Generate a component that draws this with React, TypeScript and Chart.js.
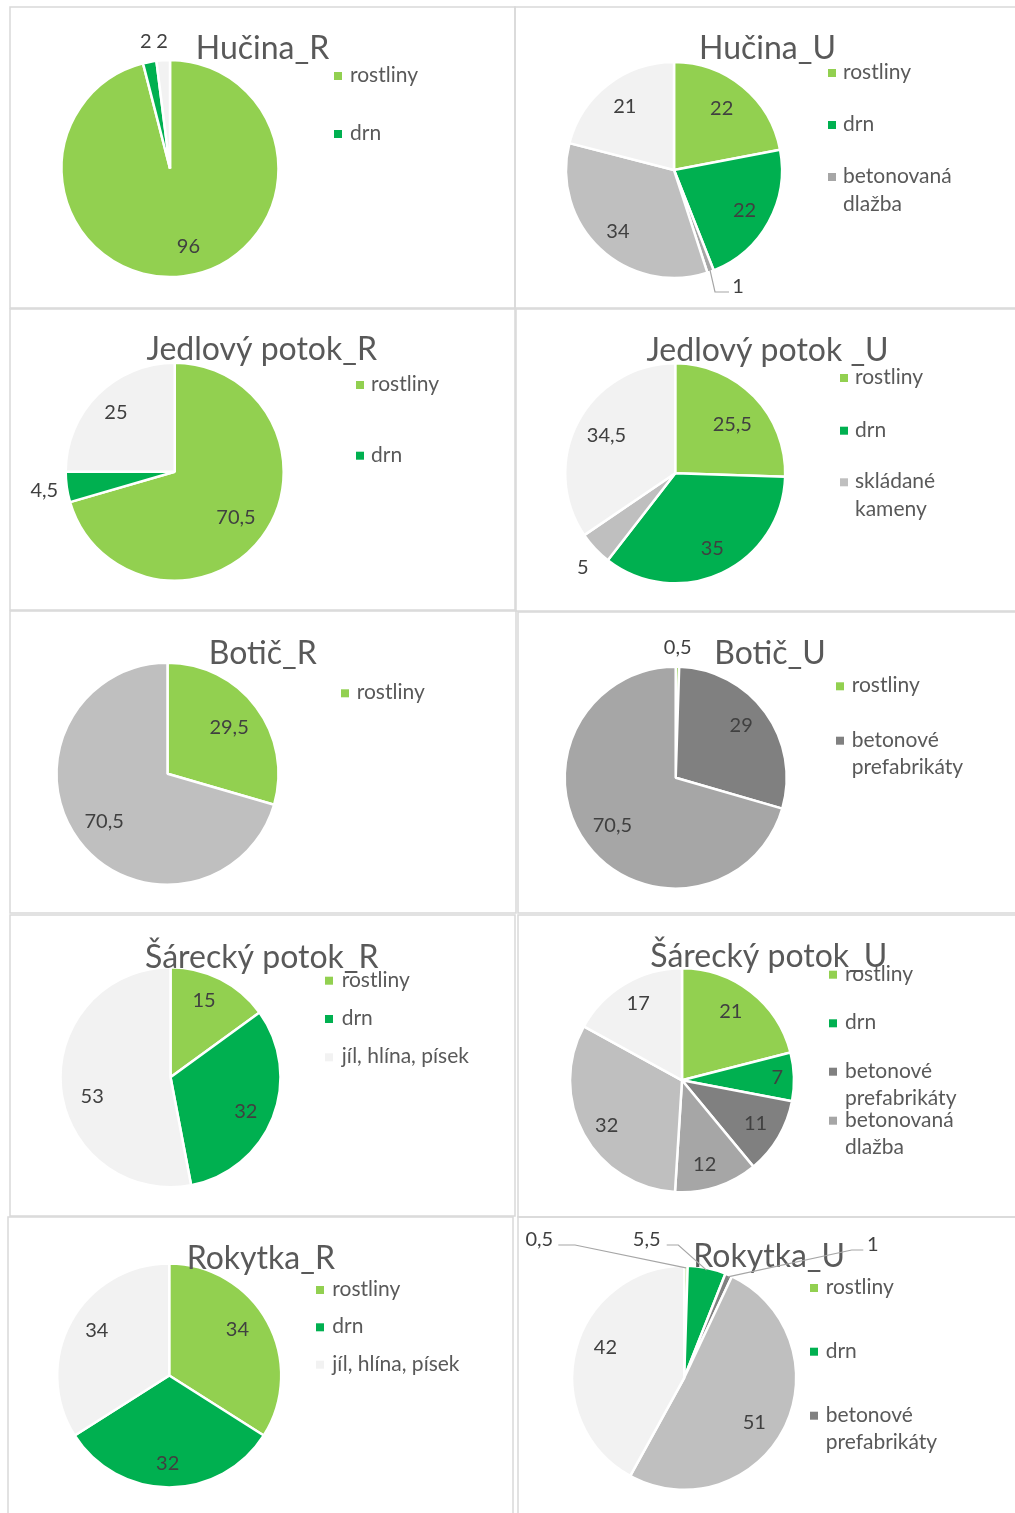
import React, { useEffect, useRef } from "react";
import { Chart, registerables } from "chart.js";

Chart.register(...registerables);

// ---------- data ----------
const hucinaRCategories = ["rostliny", "drn", "jíl, hlína, písek"];
const hucinaRValues = [96, 2, 2];

const hucinaUCategories = ["rostliny", "drn", "betonovaná dlažba", "skládané kameny", "jíl, hlína, písek"];
const hucinaUValues = [22, 22, 1, 34, 21];

const jedlovyRCategories = ["rostliny", "drn", "jíl, hlína, písek"];
const jedlovyRValues = [70.5, 4.5, 25];

const jedlovyUCategories = ["rostliny", "drn", "skládané kameny", "jíl, hlína, písek"];
const jedlovyUValues = [25.5, 35, 5, 34.5];

const boticRCategories = ["rostliny", "skládané kameny"];
const boticRValues = [29.5, 70.5];

const boticUCategories = ["rostliny", "betonové prefabrikáty", "betonovaná dlažba"];
const boticUValues = [0.5, 29, 70.5];

const sareckyRCategories = ["rostliny", "drn", "jíl, hlína, písek"];
const sareckyRValues = [15, 32, 53];

const sareckyUCategories = ["rostliny", "drn", "betonové prefabrikáty", "betonovaná dlažba", "skládané kameny", "jíl, hlína, písek"];
const sareckyUValues = [21, 7, 11, 12, 32, 17];

const rokytkaRCategories = ["rostliny", "drn", "jíl, hlína, písek"];
const rokytkaRValues = [34, 32, 34];

const rokytkaUCategories = ["rostliny", "drn", "betonové prefabrikáty", "skládané kameny", "jíl, hlína, písek"];
const rokytkaUValues = [0.5, 5.5, 1, 51, 42];

const categoryColors: Record<string, string> = {
  "rostliny": "#92D050",
  "drn": "#00B050",
  "betonové prefabrikáty": "#808080",
  "betonovaná dlažba": "#A6A6A6",
  "skládané kameny": "#BFBFBF",
  "jíl, hlína, písek": "#F2F2F2",
};

// ---------- layout ----------
const FONT = "Lato, 'Open Sans', sans-serif";
const TITLE_SIZE = 32;
const LEGEND_SIZE = 21;
const LABEL_SIZE = 20;
const LEGEND_LINE = 27.5;
const WIN_W = 1015;
const WIN_H = 1513;

type LabelSpec = { f?: number; a?: number; at?: [number, number]; leader?: [number, number][] };
type LegendRow = { cat: number; y: number; wrap?: boolean };
type PanelSpec = {
  title: string;
  categories: string[];
  values: number[];
  box: [number, number, number, number];
  center: [number, number];
  r: number;
  titlePos: [number, number];
  legend: { sx: number; tx: number; rows: LegendRow[] };
  labels: LabelSpec[];
};

const panels: PanelSpec[] = [
  {
    title: "Hučina_R", categories: hucinaRCategories, values: hucinaRValues,
    box: [10, 7, 515, 308], center: [170, 168.5], r: 107.5, titlePos: [262.5, 59],
    legend: { sx: 334, tx: 350, rows: [{ cat: 0, y: 82 }, { cat: 1, y: 140 }] },
    labels: [{ f: 0.75, a: -6 }, { f: 1.2 }, { f: 1.18 }],
  },
  {
    title: "Hučina_U", categories: hucinaUCategories, values: hucinaUValues,
    box: [515, 7, 1017, 308], center: [674, 170], r: 107, titlePos: [767.5, 58.7],
    legend: { sx: 828, tx: 843, rows: [{ cat: 0, y: 79 }, { cat: 1, y: 131 }, { cat: 2, y: 183, wrap: true }] },
    labels: [{ f: 0.73, a: -2 }, { f: 0.76, a: 1 }, { at: [64, 116.7], leader: [[41, 122], [55, 122]] }, { f: 0.78, a: -1 }, { f: 0.75 }],
  },
  {
    title: "Jedlový potok_R", categories: jedlovyRCategories, values: jedlovyRValues,
    box: [10, 309, 515, 610], center: [174.7, 471.7], r: 108, titlePos: [261.7, 360],
    legend: { sx: 356, tx: 371, rows: [{ cat: 0, y: 391 }, { cat: 1, y: 461.7 }] },
    labels: [{ f: 0.71 }, { f: 1.22 }, { f: 0.77 }],
  },
  {
    title: "Jedlový potok _U", categories: jedlovyUCategories, values: jedlovyUValues,
    box: [516, 309, 1017, 611], center: [675.2, 473.3], r: 109, titlePos: [767.5, 361],
    legend: { sx: 840, tx: 855, rows: [{ cat: 0, y: 384 }, { cat: 1, y: 436.7 }, { cat: 2, y: 488.3, wrap: true }] },
    labels: [{ f: 0.69, a: 3.5 }, { f: 0.77, a: -1 }, { f: 1.21, a: -2.4 }, { f: 0.72, a: 1 }],
  },
  {
    title: "Botič_R", categories: boticRCategories, values: boticRValues,
    box: [10, 611, 516, 913], center: [167.5, 773.8], r: 110, titlePos: [262.7, 664.3],
    legend: { sx: 341, tx: 356.7, rows: [{ cat: 0, y: 699.3 }] },
    labels: [{ f: 0.7 }, { f: 0.72 }],
  },
  {
    title: "Botič_U", categories: boticUCategories, values: boticUValues,
    box: [518, 612, 1017, 913], center: [675.7, 777.7], r: 110, titlePos: [770, 664.3],
    legend: { sx: 836, tx: 851.7, rows: [{ cat: 0, y: 692.3 }, { cat: 1, y: 746.7, wrap: true }] },
    labels: [{ f: 1.18 }, { f: 0.76, a: -2.5 }, { f: 0.72 }],
  },
  {
    title: "Šárecký potok_R", categories: sareckyRCategories, values: sareckyRValues,
    box: [10, 915, 515, 1216], center: [170.5, 1077.2], r: 109, titlePos: [261.8, 968.3],
    legend: { sx: 325, tx: 341.7, rows: [{ cat: 0, y: 986.7 }, { cat: 1, y: 1025 }, { cat: 2, y: 1063.3 }] },
    labels: [{ f: 0.77, a: -3.4 }, { f: 0.76, a: 3 }, { f: 0.74, a: -8.5 }],
  },
  {
    title: "Šárecký potok_U", categories: sareckyUCategories, values: sareckyUValues,
    box: [518, 915, 1017, 1217], center: [682, 1080.3], r: 111, titlePos: [768.8, 967.3],
    legend: {
      sx: 829, tx: 845,
      rows: [{ cat: 0, y: 980.7 }, { cat: 1, y: 1029.3 }, { cat: 2, y: 1077.7, wrap: true }, { cat: 3, y: 1126.7, wrap: true }],
    },
    labels: [{ f: 0.76, a: -2.5 }, { f: 0.86 }, { f: 0.77 }, { f: 0.79, a: 3 }, { f: 0.79, a: -2 }, { f: 0.8, a: 1 }],
  },
  {
    title: "Rokytka_R", categories: rokytkaRCategories, values: rokytkaRValues,
    box: [8, 1217, 513, 1520], center: [169.2, 1375.5], r: 111, titlePos: [260.8, 1269.3],
    legend: { sx: 316, tx: 332.3, rows: [{ cat: 0, y: 1296 }, { cat: 1, y: 1333.3 }, { cat: 2, y: 1370.7 }] },
    labels: [{ f: 0.74, a: -5 }, { f: 0.79, a: 1 }, { f: 0.77, a: 3.3 }],
  },
  {
    title: "Rokytka_U", categories: rokytkaUCategories, values: rokytkaUValues,
    box: [518, 1217, 1017, 1520], center: [684.2, 1377.8], r: 111, titlePos: [769.2, 1267.3],
    legend: { sx: 810, tx: 825.7, rows: [{ cat: 0, y: 1294 }, { cat: 1, y: 1357.7 }, { cat: 2, y: 1421.7, wrap: true }] },
    labels: [
      { at: [-144.9, -137.8], leader: [[-109.2, -132.8], [-125.9, -132.8]] },
      { at: [-37.5, -137.8], leader: [[-5.9, -132.8], [-17.5, -132.8]] },
      { at: [188.5, -132.8], leader: [[167.5, -127.8], [179.1, -127.8]] },
      { f: 0.75, a: 5.6 },
      { f: 0.76, a: 6.6 },
    ],
  },
];

const fmt = (v: number) => String(v).replace(".", ",");

function canvasRect(spec: PanelSpec) {
  const left = spec.box[0] - 1;
  const top = spec.box[1] - 1;
  const w = Math.min(spec.box[2] + 1, WIN_W) - left;
  const h = Math.min(spec.box[3] + 1, WIN_H) - top;
  return { left, top, w, h };
}

function makeDecor(spec: PanelSpec) {
  const { left: ox, top: oy } = canvasRect(spec);
  return {
    id: "panelDecor",
    beforeDraw(chart: any) {
      const ctx: CanvasRenderingContext2D = chart.ctx;
      ctx.save();
      ctx.strokeStyle = "#D9D9D9";
      ctx.lineWidth = 1.5;
      ctx.strokeRect(1, 1, spec.box[2] - spec.box[0], spec.box[3] - spec.box[1]);
      ctx.restore();
    },
    afterDatasetsDraw(chart: any) {
      const ctx: CanvasRenderingContext2D = chart.ctx;
      ctx.save();
      // title
      ctx.font = `${TITLE_SIZE}px ${FONT}`;
      ctx.fillStyle = "#595959";
      ctx.textAlign = "center";
      ctx.textBaseline = "alphabetic";
      ctx.fillText(spec.title, spec.titlePos[0] - ox, spec.titlePos[1] - oy);

      // legend
      ctx.font = `${LEGEND_SIZE}px ${FONT}`;
      ctx.textAlign = "left";
      spec.legend.rows.forEach((row) => {
        const name = spec.categories[row.cat];
        const lines = row.wrap ? name.split(" ") : [name];
        ctx.fillStyle = categoryColors[name];
        ctx.fillRect(spec.legend.sx - ox, row.y - oy - 10, 8, 8);
        ctx.fillStyle = "#595959";
        lines.forEach((ln, k) => ctx.fillText(ln, spec.legend.tx - ox, row.y - oy + k * LEGEND_LINE));
      });

      // data labels
      const meta = chart.getDatasetMeta(0);
      ctx.font = `${LABEL_SIZE}px ${FONT}`;
      ctx.textAlign = "center";
      ctx.textBaseline = "middle";
      meta.data.forEach((arc: any, i: number) => {
        const p = arc.getProps(["x", "y", "startAngle", "endAngle", "outerRadius"], true);
        const spec_l = spec.labels[i];
        if (!spec_l) return;
        const mid = (p.startAngle + p.endAngle) / 2;
        let lx: number, ly: number;
        if (spec_l.at) {
          lx = p.x + spec_l.at[0];
          ly = p.y + spec_l.at[1];
          if (spec_l.leader) {
            ctx.strokeStyle = "#A6A6A6";
            ctx.lineWidth = 1.2;
            ctx.beginPath();
            ctx.moveTo(p.x + Math.cos(mid) * (p.outerRadius - 2), p.y + Math.sin(mid) * (p.outerRadius - 2));
            spec_l.leader.forEach((pt) => ctx.lineTo(p.x + pt[0], p.y + pt[1]));
            ctx.stroke();
          }
        } else {
          const ang = mid + ((spec_l.a || 0) * Math.PI) / 180;
          const rr = (spec_l.f || 0.75) * (p.outerRadius - 1);
          lx = p.x + Math.cos(ang) * rr;
          ly = p.y + Math.sin(ang) * rr;
        }
        ctx.fillStyle = "#404040";
        ctx.fillText(fmt(spec.values[i]), lx, ly);
      });
      ctx.restore();
    },
  };
}

function PiePanel({ spec }: { spec: PanelSpec }) {
  const ref = useRef<HTMLCanvasElement>(null);
  const { left, top, w, h } = canvasRect(spec);
  useEffect(() => {
    if (!ref.current) return;
    const cx = spec.center[0] - left;
    const cy = spec.center[1] - top;
    const s = spec.r + 4;
    const chart = new Chart(ref.current, {
      type: "pie",
      data: {
        labels: spec.categories,
        datasets: [
          {
            data: spec.values,
            backgroundColor: spec.categories.map((c) => categoryColors[c]),
            borderColor: "#FFFFFF",
            borderWidth: 2.5,
            radius: spec.r + 1,
          } as any,
        ],
      },
      options: {
        responsive: false,
        maintainAspectRatio: false,
        animation: false,
        events: [],
        layout: {
          padding: { left: cx - s, right: w - cx - s, top: cy - s, bottom: h - cy - s },
        },
        plugins: {
          legend: { display: false },
          title: { display: false },
          tooltip: { enabled: false },
        },
      },
      plugins: [makeDecor(spec) as any],
    });
    return () => chart.destroy();
  }, [spec]);
  return (
    <canvas
      ref={ref}
      width={w}
      height={h}
      style={{ position: "absolute", left, top, width: w, height: h, display: "block" }}
    />
  );
}

export default function App() {
  useEffect(() => {
    document.body.style.overflow = "hidden";
  }, []);
  return (
    <div style={{ width: WIN_W, height: WIN_H - 16 }}>
      {panels.map((p) => (
        <PiePanel key={p.title} spec={p} />
      ))}
    </div>
  );
}
